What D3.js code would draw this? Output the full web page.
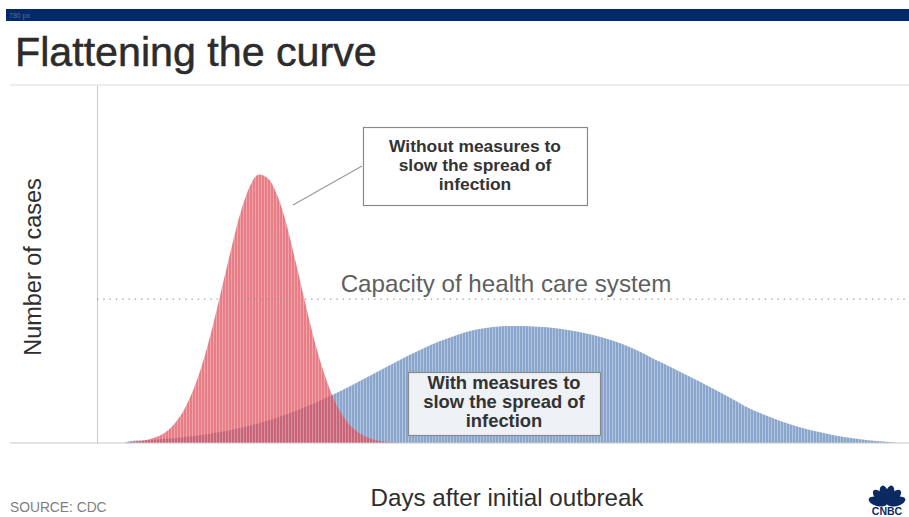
<!DOCTYPE html>
<html>
<head>
<meta charset="utf-8">
<script src="https://cdn.jsdelivr.net/npm/d3@7"></script>
<style>
  html, body { margin: 0; padding: 0; background: #fff; }
  svg { display: block; }
  text { font-family: "Liberation Sans", Arial, sans-serif; }
</style>
</head>
<body>
<svg id="chart" width="909" height="517"></svg>
<script>
// Days after outbreak and case counts for the two scenarios
const redDays = [6, 8, 10, 12, 14, 16, 18, 20, 22, 24, 26, 28, 30, 32, 34, 36, 38, 40, 42, 44, 46, 48, 50, 52, 54, 56, 58, 60, 62, 64, 66, 68];
const redCases = [0, 0.3, 0.6, 1.2, 2.1, 3.8, 6.6, 10.9, 16.8, 24.6, 34.1, 44.6, 55.2, 64.8, 71.8, 75.0, 73.9, 69.4, 61.6, 51.4, 40.6, 30.2, 21.3, 14.2, 8.9, 5.3, 3.0, 1.6, 0.8, 0.35, 0.1, 0];

const blueDays = [6, 8, 12, 16, 20, 24, 28, 32, 36, 40, 44, 48, 52, 56, 60, 64, 68, 72, 76, 80, 84, 88, 92, 96, 100, 104, 108, 112, 116, 120, 124, 128, 132, 136, 140, 144, 148, 152, 156, 160, 164, 168, 172, 176, 178];
const blueCases = [0, 0.6, 0.86, 1.23, 1.73, 2.37, 3.2, 4.25, 5.53, 7.07, 8.87, 10.94, 13.24, 15.74, 18.37, 21.04, 23.68, 26.14, 28.35, 30.2, 31.6, 32.4, 32.7, 32.6, 32.3, 31.7, 30.8, 29.6, 28.0, 25.9, 23.3, 20.9, 18.4, 15.8, 13.1, 10.3, 8.0, 6.1, 4.5, 3.2, 2.1, 1.3, 0.7, 0.25, 0];

const capacity = [40.2];

const titleText = "Flattening the curve";
const yLabel = "Number of cases";
const xLabel = "Days after initial outbreak";
const sourceText = "SOURCE: CDC";
const capacityLabel = "Capacity of health care system";
const noMeasuresLines = ["Without measures to", "slow the spread of", "infection"];
const measuresLines = ["With measures to", "slow the spread of", "infection"];

const svg = d3.select("#chart");

const x = d3.scaleLinear().domain([0, 180]).range([97, 907]);
const y = d3.scaleLinear().domain([0, 100]).range([443, 85]);

// Header band
svg.append("rect").attr("x", 6).attr("y", 9).attr("width", 903).attr("height", 12).attr("fill", "#022a6a");
svg.append("text").attr("x", 9).attr("y", 18).attr("font-size", 7).attr("fill", "#5a6f95").text("780 px");

svg.append("text")
  .attr("x", 15).attr("y", 66)
  .attr("font-size", 41.2)
  .attr("fill", "#2c2c2c")
  .attr("stroke", "#2c2c2c").attr("stroke-width", 0.5)
  .text(titleText);

// Stripe patterns for the filled curves
const defs = svg.append("defs");
function stripes(id, base, light) {
  const p = defs.append("pattern")
    .attr("id", id).attr("patternUnits", "userSpaceOnUse")
    .attr("width", 3).attr("height", 10);
  p.append("rect").attr("width", 3).attr("height", 10).attr("fill", base);
  p.append("rect").attr("width", 1).attr("height", 10).attr("fill", light);
}
stripes("blueStripes", "#8aa6cc", "#b0c4de");
stripes("redStripes", "#df4a57", "#ea7f88");

// Frame lines
svg.append("line").attr("x1", 10).attr("x2", 909).attr("y1", y(100)).attr("y2", y(100))
  .attr("stroke", "#dcdcdc").attr("stroke-width", 1);

const area = d3.area()
  .x(d => x(d[0]))
  .y0(y(0))
  .y1(d => y(d[1]))
  .curve(d3.curveMonotoneX);

svg.append("path")
  .datum(d3.zip(blueDays, blueCases))
  .attr("d", area)
  .attr("fill", "url(#blueStripes)");

svg.append("path")
  .datum(d3.zip(redDays, redCases))
  .attr("d", area)
  .attr("fill", "url(#redStripes)")
  .attr("opacity", 0.72);

// Axes (lines only, no ticks)
const yAxis = svg.append("g").attr("transform", `translate(${x(0)},0)`)
  .call(d3.axisLeft(y).tickValues([]).tickSizeOuter(0));
yAxis.select(".domain").attr("stroke", "#c8c8c8");

svg.append("line").attr("x1", 10).attr("x2", 909).attr("y1", y(0)).attr("y2", y(0))
  .attr("stroke", "#c8c8c8").attr("stroke-width", 1.2);

// Health-care capacity threshold
svg.append("line")
  .attr("x1", x(0)).attr("x2", 906)
  .attr("y1", y(capacity[0])).attr("y2", y(capacity[0]))
  .attr("stroke", "#9a9a9a").attr("stroke-width", 1.3)
  .attr("stroke-dasharray", "1.3,5");

svg.append("text")
  .attr("x", 506).attr("y", 292)
  .attr("text-anchor", "middle")
  .attr("font-size", 24.2)
  .attr("fill", "#5f5f5f")
  .text(capacityLabel);

// Callout: without measures
svg.append("line")
  .attr("x1", 293).attr("y1", 205).attr("x2", 362).attr("y2", 166)
  .attr("stroke", "#9a9a9a").attr("stroke-width", 1.2);
svg.append("rect")
  .attr("x", 363.5).attr("y", 127.5).attr("width", 224).attr("height", 78)
  .attr("fill", "#fff").attr("stroke", "#8a8a8a").attr("stroke-width", 1.2);
svg.selectAll("text.nm").data(noMeasuresLines).join("text")
  .attr("class", "nm")
  .attr("x", 475).attr("y", (d, i) => 152 + i * 19)
  .attr("text-anchor", "middle")
  .attr("font-size", 17.4).attr("font-weight", "bold")
  .attr("fill", "#333")
  .text(d => d);

// Callout: with measures
svg.append("rect")
  .attr("x", 408.5).attr("y", 372.5).attr("width", 192).attr("height", 63)
  .attr("fill", "#eef1f6").attr("stroke", "#8a8a8a").attr("stroke-width", 1.2);
svg.selectAll("text.wm").data(measuresLines).join("text")
  .attr("class", "wm")
  .attr("x", 504).attr("y", (d, i) => 389 + i * 19)
  .attr("text-anchor", "middle")
  .attr("font-size", 18.4).attr("font-weight", "bold")
  .attr("fill", "#333")
  .text(d => d);

// Axis titles
svg.append("text")
  .attr("transform", "translate(41,267) rotate(-90)")
  .attr("text-anchor", "middle")
  .attr("font-size", 23.5)
  .attr("fill", "#2e2e2e")
  .text(yLabel);

svg.append("text")
  .attr("x", 507).attr("y", 506)
  .attr("text-anchor", "middle")
  .attr("font-size", 24.2)
  .attr("fill", "#2e2e2e")
  .text(xLabel);

svg.append("text")
  .attr("x", 10).attr("y", 512)
  .attr("font-size", 13.8)
  .attr("fill", "#808080")
  .text(sourceText);

// Broadcaster mark: peacock fan with wordmark
const logo = svg.append("g").attr("transform", "translate(887,504)");
const feathers = [-75, -45, -15, 15, 45, 75];
logo.selectAll("ellipse").data(feathers).join("ellipse")
  .attr("cx", 0).attr("cy", -9.5).attr("rx", 4.5).attr("ry", 9.5)
  .attr("transform", d => `rotate(${d} 0 0)`)
  .attr("fill", "#0b2a62");
logo.append("text")
  .attr("x", 0).attr("y", 10.5)
  .attr("text-anchor", "middle")
  .attr("font-size", 10.5).attr("font-weight", "bold")
  .attr("fill", "#0b2a62")
  .text("CNBC");
</script>
</body>
</html>
